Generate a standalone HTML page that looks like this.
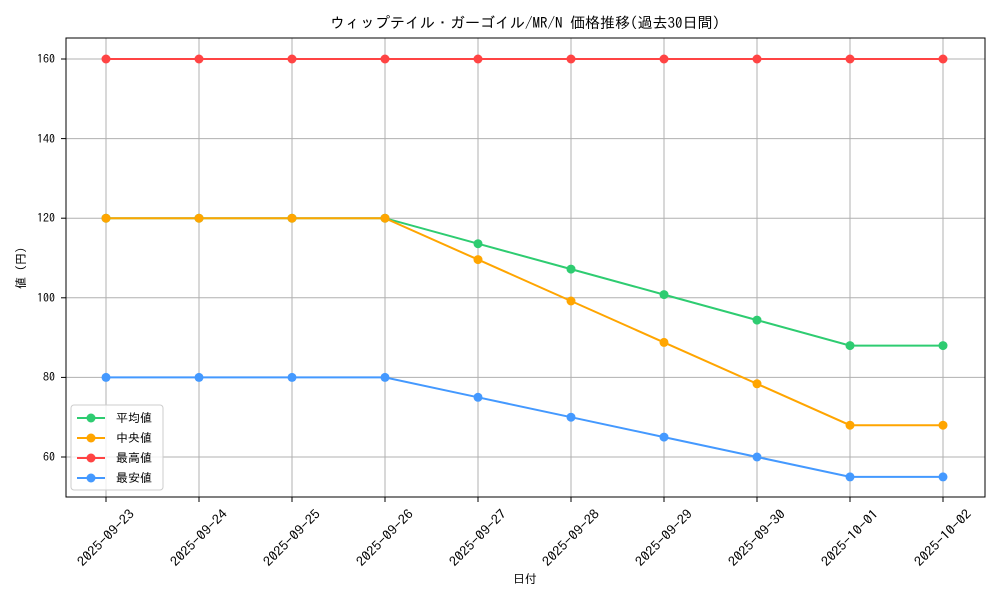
<!DOCTYPE html>
<html><head><meta charset="utf-8"><style>
body{margin:0;background:#fff}
svg text{font-family:"IPAGothic","Liberation Sans","Noto Sans CJK JP",sans-serif;fill:#000}
</style></head><body>
<svg width="1000" height="600" viewBox="0 0 1000 600" xmlns="http://www.w3.org/2000/svg">
<rect width="1000" height="600" fill="#fff"/>
<text x="525" y="28" font-size="15" text-anchor="middle">ウィップテイル・ガーゴイル/MR/N 価格推移(過去30日間)</text>
<g stroke="#b0b0b0" stroke-width="1">
<line x1="106" y1="38" x2="106" y2="497"/><line x1="199" y1="38" x2="199" y2="497"/><line x1="292" y1="38" x2="292" y2="497"/><line x1="385" y1="38" x2="385" y2="497"/><line x1="478" y1="38" x2="478" y2="497"/><line x1="571" y1="38" x2="571" y2="497"/><line x1="664" y1="38" x2="664" y2="497"/><line x1="757" y1="38" x2="757" y2="497"/><line x1="850" y1="38" x2="850" y2="497"/><line x1="943" y1="38" x2="943" y2="497"/>
<line x1="66" y1="457" x2="985" y2="457"/><line x1="66" y1="377.4" x2="985" y2="377.4"/><line x1="66" y1="297.8" x2="985" y2="297.8"/><line x1="66" y1="218.2" x2="985" y2="218.2"/><line x1="66" y1="138.6" x2="985" y2="138.6"/><line x1="66" y1="59" x2="985" y2="59"/>
</g>
<rect x="66" y="38" width="919" height="459" fill="none" stroke="#000" stroke-width="1"/>
<g stroke="#000">
<line x1="61" y1="457" x2="66" y2="457"/><line x1="61" y1="377.4" x2="66" y2="377.4"/><line x1="61" y1="297.8" x2="66" y2="297.8"/><line x1="61" y1="218.2" x2="66" y2="218.2"/><line x1="61" y1="138.6" x2="66" y2="138.6"/><line x1="61" y1="59" x2="66" y2="59"/>
</g>
<g font-size="12" text-anchor="end">
<text x="55" y="461">60</text><text x="55" y="381">80</text><text x="55" y="302">100</text><text x="55" y="222">120</text><text x="55" y="143">140</text><text x="55" y="63">160</text>
</g>
<g stroke="#000">
<line x1="106" y1="497" x2="106" y2="502"/><line x1="199" y1="497" x2="199" y2="502"/><line x1="292" y1="497" x2="292" y2="502"/><line x1="385" y1="497" x2="385" y2="502"/><line x1="478" y1="497" x2="478" y2="502"/><line x1="571" y1="497" x2="571" y2="502"/><line x1="664" y1="497" x2="664" y2="502"/><line x1="757" y1="497" x2="757" y2="502"/><line x1="850" y1="497" x2="850" y2="502"/><line x1="943" y1="497" x2="943" y2="502"/>
</g>
<g font-size="13" text-anchor="middle">
<text transform="translate(109,541) rotate(-45)" textLength="74" lengthAdjust="spacingAndGlyphs">2025-09-23</text>
<text transform="translate(202,541) rotate(-45)" textLength="74" lengthAdjust="spacingAndGlyphs">2025-09-24</text>
<text transform="translate(295,541) rotate(-45)" textLength="74" lengthAdjust="spacingAndGlyphs">2025-09-25</text>
<text transform="translate(388,541) rotate(-45)" textLength="74" lengthAdjust="spacingAndGlyphs">2025-09-26</text>
<text transform="translate(481,541) rotate(-45)" textLength="74" lengthAdjust="spacingAndGlyphs">2025-09-27</text>
<text transform="translate(574,541) rotate(-45)" textLength="74" lengthAdjust="spacingAndGlyphs">2025-09-28</text>
<text transform="translate(667,541) rotate(-45)" textLength="74" lengthAdjust="spacingAndGlyphs">2025-09-29</text>
<text transform="translate(760,541) rotate(-45)" textLength="74" lengthAdjust="spacingAndGlyphs">2025-09-30</text>
<text transform="translate(853,541) rotate(-45)" textLength="74" lengthAdjust="spacingAndGlyphs">2025-10-01</text>
<text transform="translate(946,541) rotate(-45)" textLength="74" lengthAdjust="spacingAndGlyphs">2025-10-02</text>
</g>
<text x="525" y="583" font-size="12" text-anchor="middle">日付</text>
<text transform="translate(25,268) rotate(-90)" font-size="12" text-anchor="middle">値 (円)</text>
<g fill="none" stroke-width="2">
<polyline stroke="#2ecc71" points="106,218.2 199,218.2 292,218.2 385,218.2 478,243.7 571,269.1 664,294.6 757,320.1 850,345.6 943,345.6"/>
<polyline stroke="#ffa500" points="106,218.2 199,218.2 292,218.2 385,218.2 478,259.6 571,301 664,342.4 757,383.8 850,425.2 943,425.2"/>
<polyline stroke="#ff4444" points="106,59 199,59 292,59 385,59 478,59 571,59 664,59 757,59 850,59 943,59"/>
<polyline stroke="#4499ff" points="106,377.4 199,377.4 292,377.4 385,377.4 478,397.3 571,417.2 664,437.1 757,457 850,476.9 943,476.9"/>
</g>
<g fill="#2ecc71"><circle cx="106" cy="218.2" r="4.5"/><circle cx="199" cy="218.2" r="4.5"/><circle cx="292" cy="218.2" r="4.5"/><circle cx="385" cy="218.2" r="4.5"/><circle cx="478" cy="243.7" r="4.5"/><circle cx="571" cy="269.1" r="4.5"/><circle cx="664" cy="294.6" r="4.5"/><circle cx="757" cy="320.1" r="4.5"/><circle cx="850" cy="345.6" r="4.5"/><circle cx="943" cy="345.6" r="4.5"/></g>
<g fill="#ffa500"><circle cx="106" cy="218.2" r="4.5"/><circle cx="199" cy="218.2" r="4.5"/><circle cx="292" cy="218.2" r="4.5"/><circle cx="385" cy="218.2" r="4.5"/><circle cx="478" cy="259.6" r="4.5"/><circle cx="571" cy="301" r="4.5"/><circle cx="664" cy="342.4" r="4.5"/><circle cx="757" cy="383.8" r="4.5"/><circle cx="850" cy="425.2" r="4.5"/><circle cx="943" cy="425.2" r="4.5"/></g>
<g fill="#ff4444"><circle cx="106" cy="59" r="4.5"/><circle cx="199" cy="59" r="4.5"/><circle cx="292" cy="59" r="4.5"/><circle cx="385" cy="59" r="4.5"/><circle cx="478" cy="59" r="4.5"/><circle cx="571" cy="59" r="4.5"/><circle cx="664" cy="59" r="4.5"/><circle cx="757" cy="59" r="4.5"/><circle cx="850" cy="59" r="4.5"/><circle cx="943" cy="59" r="4.5"/></g>
<g fill="#4499ff"><circle cx="106" cy="377.4" r="4.5"/><circle cx="199" cy="377.4" r="4.5"/><circle cx="292" cy="377.4" r="4.5"/><circle cx="385" cy="377.4" r="4.5"/><circle cx="478" cy="397.3" r="4.5"/><circle cx="571" cy="417.2" r="4.5"/><circle cx="664" cy="437.1" r="4.5"/><circle cx="757" cy="457" r="4.5"/><circle cx="850" cy="476.9" r="4.5"/><circle cx="943" cy="476.9" r="4.5"/></g>
<rect x="71" y="405" width="92" height="85" rx="3" fill="#fff" fill-opacity="0.8" stroke="#ccc"/>
<g stroke-width="2">
<line x1="77" y1="418" x2="105" y2="418" stroke="#2ecc71"/><circle cx="91" cy="418" r="4.5" fill="#2ecc71"/>
<line x1="77" y1="438" x2="105" y2="438" stroke="#ffa500"/><circle cx="91" cy="438" r="4.5" fill="#ffa500"/>
<line x1="77" y1="458" x2="105" y2="458" stroke="#ff4444"/><circle cx="91" cy="458" r="4.5" fill="#ff4444"/>
<line x1="77" y1="478" x2="105" y2="478" stroke="#4499ff"/><circle cx="91" cy="478" r="4.5" fill="#4499ff"/>
</g>
<g font-size="12">
<text x="116" y="422">平均値</text><text x="116" y="442">中央値</text><text x="116" y="462">最高値</text><text x="116" y="482">最安値</text>
</g>
</svg>
</body></html>
